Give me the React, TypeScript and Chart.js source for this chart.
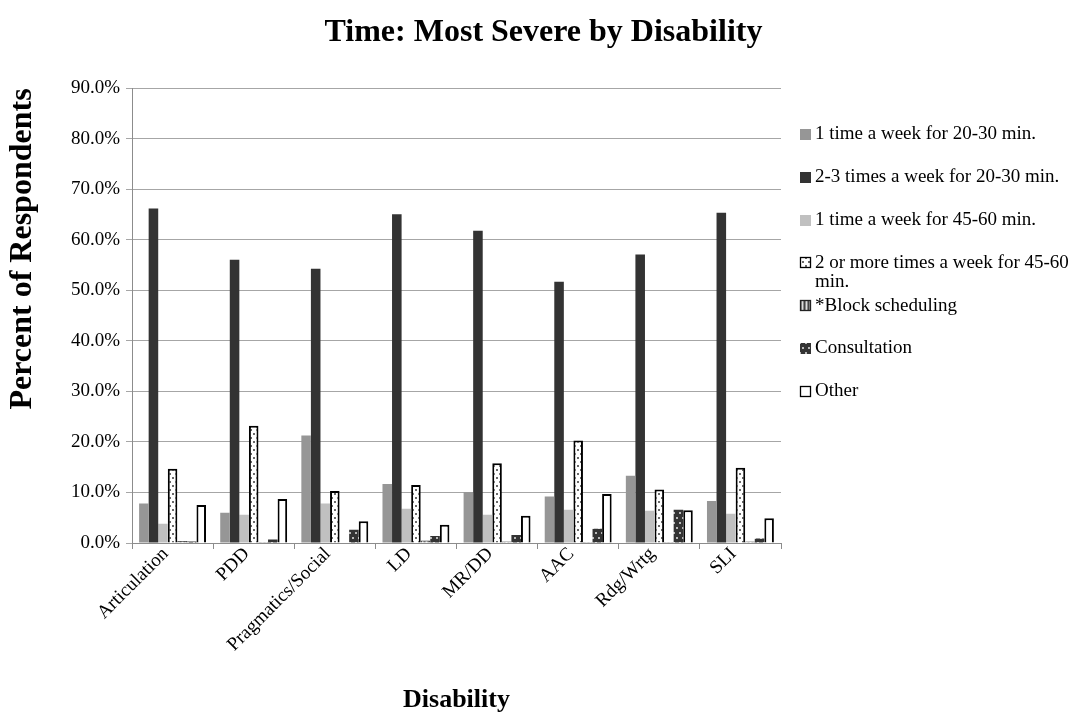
import React, { useEffect, useRef } from "react";
import { Chart, registerables } from "chart.js";

Chart.register(...registerables);

const categories = [
  "Articulation",
  "PDD",
  "Pragmatics/Social",
  "LD",
  "MR/DD",
  "AAC",
  "Rdg/Wrtg",
  "SLI",
];

const seriesNames = [
  "1 time a week for 20-30 min.",
  "2-3 times a week for 20-30 min.",
  "1 time a week for 45-60 min.",
  "2 or more times a week for 45-60 min.",
  "*Block scheduling",
  "Consultation",
  "Other",
];

const once2030 = [7.8, 6.0, 21.3, 11.7, 10.1, 9.2, 13.3, 8.3];
const twoThree2030 = [66.2, 56.1, 54.3, 65.1, 61.8, 51.7, 57.1, 65.4];
const once4560 = [3.8, 5.6, 7.8, 6.8, 5.6, 6.6, 6.4, 5.8];
const twoPlus4560 = [14.7, 23.2, 10.3, 11.5, 15.8, 20.3, 10.6, 14.9];
const blockScheduling = [0.4, 0.2, 0.1, 0.5, 0.3, 0.2, 0.2, 0.3];
const consultation = [0.3, 0.7, 2.6, 1.4, 1.6, 2.8, 6.6, 0.9];
const other = [7.5, 8.7, 4.3, 3.6, 5.4, 9.7, 6.5, 4.9];

const yMin = 0;
const yMax = 90;
const yStep = 10;

const SERIF = '"Liberation Serif", "Times New Roman", Times, serif';

function makePattern(
  w: number,
  h: number,
  draw: (c: CanvasRenderingContext2D) => void
): CanvasPattern | string {
  const cv = document.createElement("canvas");
  cv.width = w;
  cv.height = h;
  const c = cv.getContext("2d");
  if (!c) return "#fff";
  draw(c);
  return c.createPattern(cv, "repeat") || "#fff";
}

const sideLegend = {
  id: "sideLegend",
  afterDraw(chart: any) {
    const ctx: CanvasRenderingContext2D = chart.ctx;
    const boxX = 800;
    const textX = 815;
    const maxW = chart.width - textX - 4;
    const top = 134.5;
    const step = 42.8;
    const lineH = 19;
    ctx.save();
    ctx.font = `19px ${SERIF}`;
    ctx.textBaseline = "middle";
    ctx.textAlign = "left";
    chart.data.datasets.forEach((ds: any, i: number) => {
      const y = top + i * step;
      const bs = 11;
      const bx = boxX;
      const by = Math.round(y - bs / 2);
      ctx.fillStyle = ds.backgroundColor;
      ctx.fillRect(bx, by, bs, bs);
      if (ds.borderWidth && ds.borderWidth > 0) {
        ctx.strokeStyle = ds.borderColor;
        ctx.lineWidth = 1.3;
        ctx.strokeRect(bx + 0.5, by + 0.5, bs - 1, bs - 1);
      }
      const words = String(ds.label).split(" ");
      const lines: string[] = [];
      let cur = "";
      for (const wd of words) {
        const test = cur ? cur + " " + wd : wd;
        if (ctx.measureText(test).width > maxW && cur) {
          lines.push(cur);
          cur = wd;
        } else {
          cur = test;
        }
      }
      if (cur) lines.push(cur);
      ctx.fillStyle = "#000";
      lines.forEach((ln, k) => ctx.fillText(ln, textX, y + k * lineH));
    });
    ctx.restore();
  },
};

export default function App() {
  const ref = useRef<HTMLCanvasElement | null>(null);

  useEffect(() => {
    if (!ref.current) return;

    const dotted = makePattern(6, 8, (c) => {
      c.fillStyle = "#ffffff";
      c.fillRect(0, 0, 6, 8);
      c.fillStyle = "#6a6a6a";
      c.fillRect(1, 1, 2, 2);
      c.fillRect(4, 5, 2, 2);
    });
    const consultPat = makePattern(6, 10, (c) => {
      c.fillStyle = "#333333";
      c.fillRect(0, 0, 6, 10);
      c.fillStyle = "#b8b8b8";
      c.fillRect(1, 2, 2, 2);
      c.fillRect(4, 7, 2, 2);
    });
    const stripes = makePattern(4, 1, (c) => {
      const cols = ["#444444", "#8a8a8a", "#dddddd", "#8a8a8a"];
      cols.forEach((col, k) => {
        c.fillStyle = col;
        c.fillRect(k, 0, 1, 1);
      });
    });

    const chart = new Chart(ref.current, {
      type: "bar",
      data: {
        labels: categories,
        datasets: [
          { label: seriesNames[0], data: once2030, backgroundColor: "#969696", borderWidth: 0 },
          { label: seriesNames[1], data: twoThree2030, backgroundColor: "#333333", borderWidth: 0 },
          { label: seriesNames[2], data: once4560, backgroundColor: "#c0c0c0", borderWidth: 0 },
          { label: seriesNames[3], data: twoPlus4560, backgroundColor: dotted as any, borderColor: "#000000", borderWidth: 2 },
          { label: seriesNames[4], data: blockScheduling, backgroundColor: stripes as any, borderColor: "#222222", borderWidth: 1 },
          { label: seriesNames[5], data: consultation, backgroundColor: consultPat as any, borderWidth: 0 },
          { label: seriesNames[6], data: other, backgroundColor: "#ffffff", borderColor: "#000000", borderWidth: 2 },
        ],
      },
      options: {
        responsive: false,
        animation: false,
        devicePixelRatio: 1,
        layout: { padding: { left: 4, right: 0, top: 0, bottom: 6 } },
        datasets: {
          bar: { categoryPercentage: 0.825, barPercentage: 1.0 },
        },
        plugins: {
          legend: { display: false },
          tooltip: { enabled: false },
          title: {
            display: true,
            text: "Time: Most Severe by Disability",
            color: "#000",
            font: { family: SERIF, size: 32, weight: "bold", lineHeight: 1.2 },
            padding: { top: 14, bottom: 36 },
          },
        },
        scales: {
          x: {
            grid: {
              drawOnChartArea: false,
              offset: true,
              color: "#8c8c8c",
              tickLength: 6,
            },
            border: { color: "#8c8c8c" },
            ticks: {
              color: "#000",
              font: { family: SERIF, size: 19 },
              minRotation: 45,
              maxRotation: 45,
              padding: -6,
              labelOffset: -7,
              autoSkip: false,
            },
            title: {
              display: true,
              text: "Disability",
              color: "#000",
              font: { family: SERIF, size: 26, weight: "bold", lineHeight: 1.2 },
              padding: { top: 0, bottom: 6 },
            },
            afterFit: (s: any) => {
              s.height = 179;
            },
          },
          y: {
            min: yMin,
            max: yMax,
            grid: { color: "#a6a6a6", tickLength: 6 },
            border: { color: "#8c8c8c" },
            ticks: {
              stepSize: yStep,
              color: "#000",
              font: { family: SERIF, size: 19 },
              padding: 6,
              callback: (v: any) => Number(v).toFixed(1) + "%",
            },
            title: {
              display: true,
              text: "Percent of Respondents",
              align: "end",
              color: "#000",
              font: { family: SERIF, size: 32, weight: "bold", lineHeight: 1.2 },
              padding: { top: 0, bottom: 0 },
            },
            afterFit: (s: any) => {
              s.width = 128;
            },
          },
          legendSpace: {
            type: "linear",
            position: "right",
            display: true,
            ticks: { display: false },
            grid: { display: false },
            border: { display: false },
            afterFit: (s: any) => {
              s.width = 302;
            },
          },
        },
      },
      plugins: [sideLegend],
    } as any);

    return () => chart.destroy();
  }, []);

  return (
    <div
      style={{
        position: "absolute",
        left: 0,
        top: 0,
        width: 1083,
        height: 728,
        background: "#fff",
      }}
    >
      <canvas ref={ref} width={1083} height={728} />
    </div>
  );
}
